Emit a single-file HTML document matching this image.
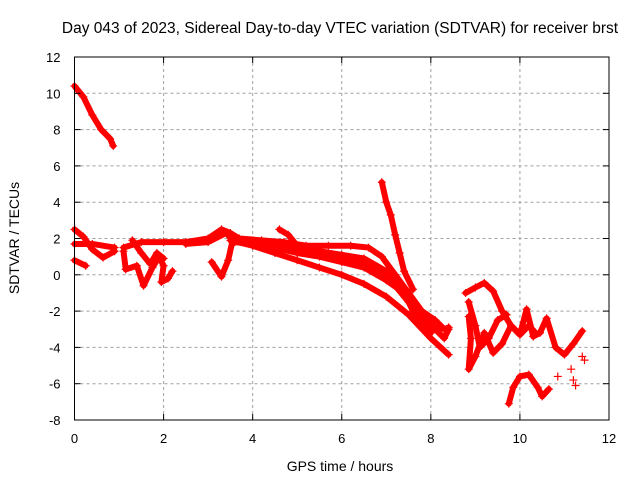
<!DOCTYPE html>
<html><head><meta charset="utf-8"><style>
body{margin:0;background:#fff}
svg{display:block;font-family:"Liberation Sans",sans-serif}
</style></head><body>
<svg id="chart" width="640" height="480">
<text x="340" y="33" font-size="15.5" text-anchor="middle">Day 043 of 2023, Sidereal Day-to-day VTEC variation (SDTVAR) for receiver brst</text>
<text x="340" y="471" font-size="14" text-anchor="middle">GPS time / hours</text>
<text transform="translate(19,238) rotate(-90)" font-size="14" text-anchor="middle">SDTVAR / TECUs</text>
<g id="grid"></g><g id="marks"></g><g id="axes"></g>
</svg>
<script>
const xTicks=[0,2,4,6,8,10,12];
const yTicks=[-8,-6,-4,-2,0,2,4,6,8,10,12];
const traceA=[[0,10.4],[0.2,9.8],[0.4,8.8],[0.6,8.0],[0.8,7.5],[0.87,7.1]];
const traceB=[[0,2.5],[0.2,2.1],[0.4,1.4],[0.64,0.95],[0.9,1.3]];
const traceC=[[0,1.7],[0.4,1.7],[0.9,1.5]];
const traceD=[[0,0.8],[0.25,0.5]];
const trace1=[[1.1,1.5],[1.5,1.8],[2,1.8],[2.5,1.8],[3,2.0],[3.3,2.5],[3.5,2.3],[3.7,2.0],[4.2,1.9],[4.7,1.8],[5.2,1.6],[5.7,1.6],[6.2,1.6],[6.6,1.5],[6.9,1.0],[7.2,0],[7.5,-1],[7.8,-2],[8.1,-2.5],[8.3,-3],[8.4,-2.9]];
const trace2=[[2.5,1.7],[3,1.8],[3.4,2.3],[3.6,1.8],[4,1.7],[4.5,1.5],[5,1.2],[5.5,1.0],[6,0.7],[6.5,0.4],[7,-0.3],[7.4,-1],[7.8,-2],[8.1,-3],[8.3,-3.5],[8.4,-3]];
const trace3=[[3.5,1.9],[4,1.6],[4.5,1.2],[5,0.8],[5.5,0.4],[6,0],[6.5,-0.5],[7,-1.2],[7.5,-2.2],[8,-3.5],[8.4,-4.4]];
const trace4=[[4.6,2.5],[4.8,2.2],[5.0,1.6],[5.5,1.3],[6,1.1],[6.5,0.9],[7,0.2],[7.4,-1],[7.6,-2],[7.8,-2.6],[8,-3.2]];
const trace4b=[[4.0,1.9],[4.5,1.7],[5.0,1.4],[5.5,1.2],[6,0.9],[6.5,0.6],[7,0.0],[7.5,-1.5],[7.9,-2.8],[8.2,-3.0]];
const trace5=[[6.9,5.1],[7.0,4.0],[7.1,3.3],[7.2,2.2],[7.3,1.2],[7.4,0.2],[7.6,-0.8]];
const trace6=[[1.1,1.3],[1.15,0.3],[1.4,0.5],[1.55,-0.6],[1.75,0.4],[1.9,1.0],[2.0,0.5],[1.95,-0.4],[2.1,-0.2],[2.2,0.2]];
const trace7=[[1.3,1.9],[1.5,1.2],[1.7,0.6],[1.85,1.2],[2.0,0.9]];
const trace8=[[3.08,0.7],[3.3,-0.1],[3.45,0.8],[3.55,1.9]];
const trace10=[[8.78,-1.0],[9.0,-0.7],[9.2,-0.45],[9.4,-0.9],[9.6,-2.0],[9.8,-2.8],[10.0,-3.3],[10.15,-1.9],[10.3,-3.4],[10.45,-3.2],[10.6,-2.4],[10.8,-4.0],[11.0,-4.4],[11.2,-3.8],[11.4,-3.1]];
const trace11=[[8.85,-2.3],[8.9,-3.5],[8.85,-5.2],[9.0,-4.5],[9.2,-3.2],[9.4,-4.3],[9.6,-3.8],[9.8,-2.8],[10.0,-3.3],[10.2,-2.8],[10.35,-3.2]];
const trace12=[[8.85,-1.5],[9.0,-2.8],[9.1,-4.0],[9.3,-3.5],[9.5,-2.5],[9.7,-2.2]];
const trace13=[[9.75,-7.1],[9.85,-6.2],[10.0,-5.6],[10.2,-5.5],[10.4,-6.2],[10.5,-6.7],[10.65,-6.3]];
const scatter=[[10.85,-5.6],[11.15,-5.2],[11.2,-5.8],[11.25,-6.1],[11.4,-4.5],[11.45,-4.7]];
const traces=[traceA,traceB,traceC,traceD,trace1,trace2,trace3,trace4,trace4b,trace5,trace6,trace7,trace8,trace10,trace11,trace12,trace13];

const L=74.5,R=609,T=57,B=420;
const X=h=>L+(h-0)/12*(R-L);
const Y=v=>B-(v+8)/20*(B-T);
const NS='http://www.w3.org/2000/svg';
function mk(tag,attrs,parent){const e=document.createElementNS(NS,tag);for(const k in attrs)e.setAttribute(k,attrs[k]);parent.appendChild(e);return e;}
const grid=document.getElementById('grid'),axes=document.getElementById('axes'),marks=document.getElementById('marks');
xTicks.forEach(t=>{
  if(t>0&&t<12){const g=mk('line',{x1:X(t),x2:X(t),y1:T,y2:B,stroke:'#a0a0a0','stroke-dasharray':'3,3'},grid);
  
  }
  const tx=mk('text',{x:X(t),y:B+23,'font-size':13,'text-anchor':'middle'},axes);tx.textContent=t;
  
  
  mk('line',{x1:X(t),x2:X(t),y1:B,y2:B-6,stroke:'#000'},axes);
  mk('line',{x1:X(t),x2:X(t),y1:T,y2:T+6,stroke:'#000'},axes);
});
yTicks.forEach(t=>{
  if(t>-8&&t<12){const g=mk('line',{x1:L,x2:R,y1:Y(t),y2:Y(t),stroke:'#a0a0a0','stroke-dasharray':'3,3'},grid);
  
  }
  const tx=mk('text',{x:L-14,y:Y(t)+5,'font-size':13,'text-anchor':'end'},axes);tx.textContent=t;
  
  
  mk('line',{x1:L,x2:L+6,y1:Y(t),y2:Y(t),stroke:'#000'},axes);
  mk('line',{x1:R,x2:R-6,y1:Y(t),y2:Y(t),stroke:'#000'},axes);
});
const frame=mk('rect',{x:L,y:T,width:R-L,height:B-T,fill:'none',stroke:'#000'},axes);


function plus(h,v){const x=X(h),y=Y(v);mk('path',{d:`M${x-4},${y}h8M${x},${y-4}v8`,stroke:'#f00','stroke-width':1.2},marks);}
traces.forEach(tr=>{
  const p=mk('polyline',{points:tr.map(d=>X(d[0])+','+Y(d[1])).join(' '),fill:'none',stroke:'#f00','stroke-width':6,'stroke-linejoin':'round','stroke-linecap':'round'},marks);
  
  
  tr.forEach(d=>plus(d[0],d[1]));
});
scatter.forEach(d=>plus(d[0],d[1]));
</script>
</body></html>
